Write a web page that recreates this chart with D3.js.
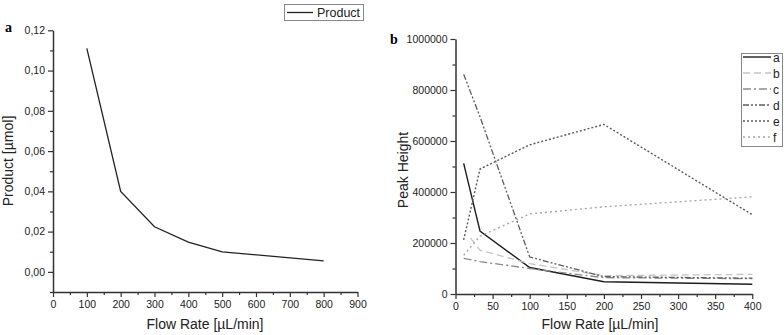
<!DOCTYPE html>
<html>
<head>
<meta charset="utf-8">
<script src="https://cdn.jsdelivr.net/npm/d3@7"></script>
<style>
  body { margin: 0; background: #fff; }
  svg { display: block; font-family: Arial, "Liberation Sans", sans-serif; }
</style>
</head>
<body>
<svg id="fig" width="784" height="335"></svg>
<script>
// Panel a data
flowA = [100, 200, 300, 400, 500, 800];
product = [0.111, 0.040, 0.0224, 0.0148, 0.0099, 0.0055];

// Panel b data
seriesNames = ["a", "b", "c", "d", "e", "f"];
flowB = [11, 33, 100, 200, 400];
flowBb = [20, 33, 100, 200, 400];
peakA = [512000, 247000, 104000, 48000, 38000];
peakB = [220000, 172000, 119000, 72000, 77000];
peakC = [140000, 127000, 100000, 64000, 60000];
peakD = [862000, 695000, 145000, 68000, 62000];
peakE = [212000, 490000, 585000, 665000, 311000];
peakF = [152000, 227000, 314000, 342000, 381000];

svg = d3.select("#fig");
axisCol = "#333";

function comma(f) { return v => d3.format(f)(v).replace(".", ","); }

function drawAxes(g, x, y, xMajor, xMinor, yMajor, yMinor, yFmt, yBase) {
  // minor ticks first
  g.append("g").attr("transform", "translate(0," + yBase + ")")
    .call(d3.axisBottom(x).tickValues(xMinor).tickSize(3).tickFormat(""))
    .call(a => a.select(".domain").remove());
  g.append("g").attr("transform", "translate(" + x.range()[0] + ",0)")
    .call(d3.axisLeft(y).tickValues(yMinor).tickSize(3).tickFormat(""))
    .call(a => a.select(".domain").remove());
  var xa = g.append("g").attr("transform", "translate(0," + yBase + ")")
    .call(d3.axisBottom(x).tickValues(xMajor).tickSize(5).tickSizeOuter(0).tickPadding(4));
  var ya = g.append("g").attr("transform", "translate(" + x.range()[0] + ",0)")
    .call(d3.axisLeft(y).tickValues(yMajor).tickSize(5).tickSizeOuter(0).tickPadding(3).tickFormat(yFmt));
  [xa, ya].forEach(a => {
    a.selectAll("text").attr("font-size", 10.5).attr("fill", "#222").attr("font-family", "Arial, 'Liberation Sans', sans-serif");
  });
  g.selectAll(".tick line").attr("stroke", axisCol).attr("stroke-width", 1.2);
  g.selectAll(".domain").attr("stroke", axisCol).attr("stroke-width", 1.5);
}

// ---------- Panel a ----------
xa = d3.scaleLinear([0, 900], [53, 357.5]);
ya = d3.scaleLinear([-0.01, 0.12], [292, 30.3]);
ga = svg.append("g");
drawAxes(ga, xa, ya,
  d3.range(0, 901, 100), d3.range(50, 900, 100),
  d3.range(0, 0.121, 0.02), [-0.01, 0.01, 0.03, 0.05, 0.07, 0.09, 0.11],
  comma(".2f"), 292);

lineA = d3.line().x((d, i) => xa(flowA[i])).y(d => ya(d));
ga.append("path").attr("d", lineA(product))
  .attr("fill", "none").attr("stroke", "#222").attr("stroke-width", 1.3);

ga.append("text").attr("x", 205).attr("y", 329).attr("text-anchor", "middle")
  .attr("font-size", 14).attr("fill", "#222").text("Flow Rate [µL/min]");
ga.append("text").attr("transform", "translate(13,161) rotate(-90)").attr("text-anchor", "middle")
  .attr("font-size", 14).attr("fill", "#222").text("Product [µmol]");
ga.append("text").attr("x", 5).attr("y", 32).attr("font-family", "'Liberation Serif', 'DejaVu Serif', serif")
  .attr("font-weight", "bold").attr("font-size", 14).text("a");

// legend a
ga.append("rect").attr("x", 284.5).attr("y", 4.5).attr("width", 79).attr("height", 16)
  .attr("fill", "#fff").attr("stroke", "#888").attr("stroke-width", 1);
ga.append("line").attr("x1", 287).attr("x2", 313).attr("y1", 12.5).attr("y2", 12.5)
  .attr("stroke", "#222").attr("stroke-width", 1.3);
ga.append("text").attr("x", 317).attr("y", 17).attr("font-size", 12.5).attr("fill", "#222").text("Product");

// ---------- Panel b ----------
xb = d3.scaleLinear([0, 400], [455.5, 752.3]);
yb = d3.scaleLinear([0, 1000000], [294, 39]);
gb = svg.append("g");
drawAxes(gb, xb, yb,
  d3.range(0, 401, 50), d3.range(25, 400, 50),
  d3.range(0, 1000001, 200000), d3.range(100000, 1000000, 200000),
  d3.format("d"), 294);

styles = [
  {c: "#1e1e1e", d: null, w: 1.4},
  {c: "#c4c4c4", d: "7,4", w: 1.3},
  {c: "#8a8a8a", d: "8,3,2,3", w: 1.3},
  {c: "#5e5e5e", d: "6,2,2,2,2,2", w: 1.3},
  {c: "#5a5a5a", d: "2,2", w: 1.4},
  {c: "#a8a8a8", d: "2,3", w: 1.4}
];
peaks = [peakA, peakB, peakC, peakD, peakE, peakF];
xsets = [flowB, flowBb, flowB, flowB, flowB, flowB];

peaks.forEach((vals, k) => {
  var xs = xsets[k];
  var ln = d3.line().x((d, i) => xb(xs[i])).y(d => yb(d));
  gb.append("path").attr("d", ln(vals)).attr("fill", "none")
    .attr("stroke", styles[k].c).attr("stroke-width", styles[k].w)
    .attr("stroke-dasharray", styles[k].d);
});

gb.append("text").attr("x", 600).attr("y", 329).attr("text-anchor", "middle")
  .attr("font-size", 14).attr("fill", "#222").text("Flow Rate [µL/min]");
gb.append("text").attr("transform", "translate(408,170) rotate(-90)").attr("text-anchor", "middle")
  .attr("font-size", 14).attr("fill", "#222").text("Peak Height");
gb.append("text").attr("x", 390).attr("y", 44).attr("font-family", "'Liberation Serif', 'DejaVu Serif', serif")
  .attr("font-weight", "bold").attr("font-size", 14).text("b");

// legend b
gb.append("rect").attr("x", 741.5).attr("y", 53.5).attr("width", 41).attr("height", 93)
  .attr("fill", "#fff").attr("stroke", "#888").attr("stroke-width", 1);
seriesNames.forEach((n, k) => {
  var yy = 57 + k * 16;
  gb.append("line").attr("x1", 743).attr("x2", 771).attr("y1", yy).attr("y2", yy)
    .attr("stroke", styles[k].c).attr("stroke-width", styles[k].w)
    .attr("stroke-dasharray", styles[k].d);
  gb.append("text").attr("x", 773).attr("y", yy + 4.5).attr("font-size", 12).attr("fill", "#222").text(n);
});
</script>
</body>
</html>
